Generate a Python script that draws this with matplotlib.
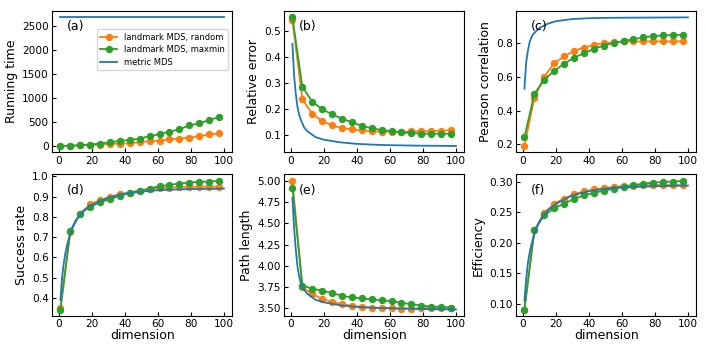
import numpy as np
import matplotlib.pyplot as plt

# dimensions where the landmark runs were sampled
dims = [1, 7, 13, 19, 25, 31, 37, 43, 49, 55, 61, 67, 73, 79, 85, 91, 97]
# dimensions used for the metric MDS curve
dims_full = [1, 2, 3, 4, 5, 6, 8, 10, 15, 20, 30, 40, 50, 60, 80, 100]

# (a) running time
time_random = [0, 5, 12, 20, 28, 42, 50, 56, 78, 100, 112, 135, 155, 175, 205, 240, 260]
time_maxmin = [0, 5, 15, 30, 50, 78, 105, 125, 155, 205, 245, 300, 345, 430, 470, 540, 600]
time_metric = [2680] * len(dims_full)

# (b) relative error
err_random = [0.540, 0.238, 0.181, 0.154, 0.137, 0.127, 0.122, 0.118, 0.114, 0.113,
              0.113, 0.112, 0.114, 0.114, 0.115, 0.116, 0.119]
err_maxmin = [0.552, 0.285, 0.228, 0.200, 0.179, 0.163, 0.149, 0.136, 0.126, 0.119,
              0.115, 0.110, 0.108, 0.105, 0.105, 0.105, 0.105]
err_metric = [0.45, 0.33, 0.26, 0.21, 0.18, 0.16, 0.13, 0.115, 0.092, 0.082,
              0.072, 0.066, 0.063, 0.061, 0.059, 0.058]

# (c) pearson correlation
corr_random = [0.190, 0.474, 0.602, 0.680, 0.722, 0.754, 0.774, 0.790, 0.800, 0.804,
               0.810, 0.810, 0.810, 0.810, 0.810, 0.810, 0.810]
corr_maxmin = [0.242, 0.500, 0.582, 0.636, 0.678, 0.714, 0.740, 0.766, 0.786, 0.802,
               0.812, 0.824, 0.834, 0.842, 0.846, 0.848, 0.850]
corr_metric = [0.53, 0.68, 0.75, 0.80, 0.83, 0.85, 0.87, 0.89, 0.915, 0.93,
               0.943, 0.948, 0.950, 0.951, 0.952, 0.953]

# (d) success rate
succ_random = [0.350, 0.728, 0.817, 0.862, 0.883, 0.900, 0.912, 0.920, 0.930, 0.937,
               0.942, 0.945, 0.947, 0.948, 0.950, 0.950, 0.950]
succ_maxmin = [0.343, 0.733, 0.817, 0.850, 0.872, 0.888, 0.905, 0.920, 0.930, 0.940,
               0.952, 0.958, 0.965, 0.970, 0.973, 0.975, 0.978]
succ_metric = [0.39, 0.50, 0.57, 0.62, 0.66, 0.69, 0.74, 0.78, 0.83, 0.86,
               0.895, 0.915, 0.925, 0.932, 0.938, 0.940]

# (e) path length
path_random = [5.00, 3.747, 3.667, 3.610, 3.575, 3.548, 3.528, 3.516, 3.508, 3.504,
               3.500, 3.496, 3.496, 3.500, 3.504, 3.508, 3.508]
path_maxmin = [4.92, 3.767, 3.731, 3.707, 3.679, 3.647, 3.627, 3.616, 3.604, 3.592,
               3.584, 3.564, 3.548, 3.532, 3.520, 3.516, 3.508]
path_metric = [4.80, 4.45, 4.20, 4.00, 3.88, 3.80, 3.72, 3.67, 3.60, 3.57,
               3.535, 3.515, 3.505, 3.50, 3.49, 3.485]

# (f) efficiency
eff_random = [0.091, 0.2206, 0.2494, 0.2644, 0.2728, 0.2800, 0.2844, 0.2878, 0.2900, 0.2917,
              0.2933, 0.2939, 0.2944, 0.2950, 0.2950, 0.2950, 0.2950]
eff_maxmin = [0.091, 0.2206, 0.2456, 0.2567, 0.2644, 0.2722, 0.2778, 0.2822, 0.2856, 0.2889,
              0.2922, 0.2950, 0.2972, 0.2989, 0.3000, 0.3006, 0.3017]
eff_metric = [0.1056, 0.14, 0.165, 0.182, 0.195, 0.205, 0.222, 0.235, 0.253, 0.264,
              0.278, 0.285, 0.289, 0.291, 0.293, 0.294]

panels = [
    ("Running time", "(a)", time_random, time_maxmin, time_metric),
    ("Relative error", "(b)", err_random, err_maxmin, err_metric),
    ("Pearson correlation", "(c)", corr_random, corr_maxmin, corr_metric),
    ("Success rate", "(d)", succ_random, succ_maxmin, succ_metric),
    ("Path length", "(e)", path_random, path_maxmin, path_metric),
    ("Efficiency", "(f)", eff_random, eff_maxmin, eff_metric),
]

fig, axes = plt.subplots(2, 3, figsize=(7.06, 3.53), dpi=100)
fig.subplots_adjust(left=0.074, right=0.986, top=0.969, bottom=0.105,
                    wspace=0.29, hspace=0.156)

for i, (ax, (ylabel, tag, rnd, mxm, met)) in enumerate(zip(axes.flat, panels)):
    ax.plot(dims, rnd, '-o', color='#ff7f0e', lw=1.3, ms=4.3, label='landmark MDS, random')
    ax.plot(dims, mxm, '-o', color='#2ca02c', lw=1.3, ms=4.3, label='landmark MDS, maxmin')
    ax.plot(dims_full, met, '-', color='#1f77b4', lw=1.3, label='metric MDS')
    ax.set_ylabel(ylabel, fontsize=9, labelpad=3)
    ax.text(0.08, 0.89, tag, transform=ax.transAxes, fontsize=9, va='center')
    ax.tick_params(direction='in', labelsize=7.6, length=3, pad=2.5)
    ax.set_xticks([0, 20, 40, 60, 80, 100])
    if i >= 3:
        ax.set_xlabel("dimension", fontsize=9, labelpad=0)

axes[0, 0].legend(loc='upper right', bbox_to_anchor=(1.0, 0.9), fontsize=6,
                  handlelength=2.0, borderpad=0.4, labelspacing=0.45)
axes[0, 0].set_yticks([0, 500, 1000, 1500, 2000, 2500])
axes[0, 1].set_yticks([0.1, 0.2, 0.3, 0.4, 0.5])
axes[0, 2].set_yticks([0.2, 0.4, 0.6, 0.8])
axes[1, 0].set_yticks([0.4, 0.5, 0.6, 0.7, 0.8, 0.9, 1.0])
axes[1, 1].set_yticks([3.5, 3.75, 4.0, 4.25, 4.5, 4.75, 5.0])
axes[1, 1].set_yticklabels(["3.50", "3.75", "4.00", "4.25", "4.50", "4.75", "5.00"])

plt.savefig("out.png", dpi=100)
